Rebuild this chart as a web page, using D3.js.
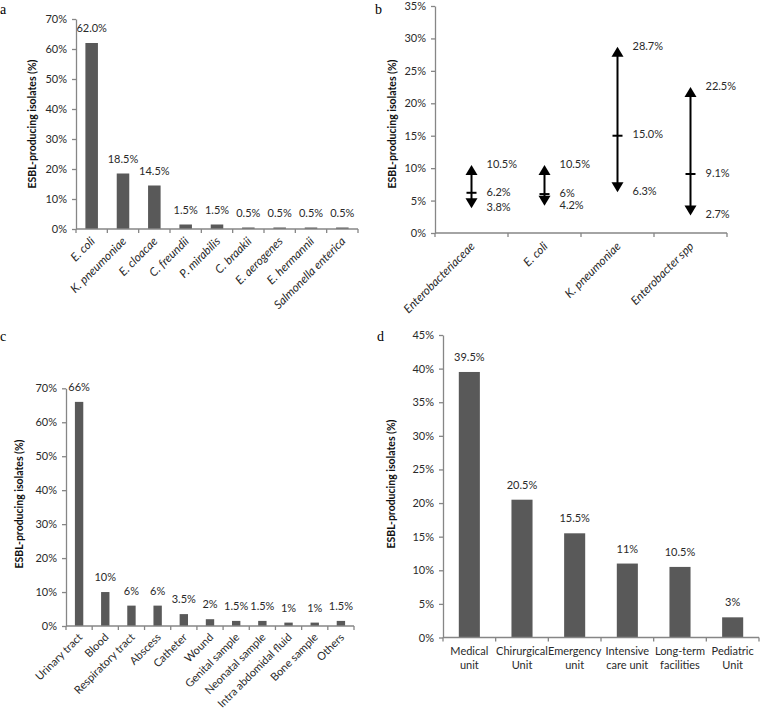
<!DOCTYPE html>
<html><head><meta charset="utf-8">
<script src="https://cdn.jsdelivr.net/npm/d3@7"></script>
<style>
body{margin:0;background:#fff;}
svg{display:block;font-family:Lato,"Open Sans",sans-serif;}
</style></head>
<body><svg id="c" width="760" height="710"></svg>
<script>
// ---- Panel a: species ----
const speciesCats = ["E. coli","K. pneumoniae","E. cloacae","C. freundii","P. mirabilis","C. braakii","E. aerogenes","E. hermannii","Salmonella enterica"];
const speciesVals = [62.0,18.5,14.5,1.5,1.5,0.5,0.5,0.5,0.5];
const speciesLabels = ["62.0%","18.5%","14.5%","1.5%","1.5%","0.5%","0.5%","0.5%","0.5%"];
const yTicksA = [0,10,20,30,40,50,60,70];

// ---- Panel b: ranges ----
const rangeCats = ["Enterobacteriaceae","E. coli","K. pneumoniae","Enterobacter spp"];
const rangeLow = [3.8,4.2,6.3,2.7];
const rangeMid = [6.2,6.0,15.0,9.1];
const rangeHigh = [10.5,10.5,28.7,22.5];
const rangeLowLbl = ["3.8%","4.2%","6.3%","2.7%"];
const rangeMidLbl = ["6.2%","6%","15.0%","9.1%"];
const rangeHighLbl = ["10.5%","10.5%","28.7%","22.5%"];
const yTicksB = [0,5,10,15,20,25,30,35];

// ---- Panel c: sample type ----
const sampleCats = ["Urinary tract","Blood","Respiratory tract","Abscess","Catheter","Wound","Genital sample","Neonatal sample","Intra abdomidal fluid","Bone sample","Others"];
const sampleVals = [66,10,6,6,3.5,2,1.5,1.5,1,1,1.5];
const sampleLabels = ["66%","10%","6%","6%","3.5%","2%","1.5%","1.5%","1%","1%","1.5%"];
const yTicksC = [0,10,20,30,40,50,60,70];

// ---- Panel d: wards ----
const wardCats = [["Medical","unit"],["Chirurgical","Unit"],["Emergency","unit"],["Intensive","care unit"],["Long-term","facilities"],["Pediatric","Unit"]];
const wardVals = [39.5,20.5,15.5,11,10.5,3];
const wardLabels = ["39.5%","20.5%","15.5%","11%","10.5%","3%"];
const yTicksD = [0,5,10,15,20,25,30,35,40,45];

const svg = d3.select("#c");
const AXIS = "#868686", BAR = "#595959", TXT = "#2a2a2a";
const FS = 11;

function yAxisPanel(g, y, ticks, x0, labelX, labelY){
  const ax = d3.axisLeft(y).tickValues(ticks).tickFormat(d=>d+"%").tickSize(4).tickSizeOuter(0).tickPadding(5);
  const ga = g.append("g").attr("transform",`translate(${x0},0)`).call(ax);
  ga.select(".domain").attr("stroke",AXIS).attr("stroke-width",1.3);
  ga.selectAll(".tick line").attr("stroke",AXIS).attr("stroke-width",1.3);
  ga.selectAll(".tick text").attr("fill",TXT).attr("font-size",FS).attr("font-family","Lato, sans-serif");
  g.append("text").attr("transform",`translate(${labelX},${labelY}) rotate(-90)`)
    .attr("text-anchor","middle").attr("dominant-baseline","middle")
    .attr("font-weight","bold").attr("font-size",10.5).attr("fill","#111")
    .text("ESBL-producing isolates (%)");
}
function xAxisLine(g, x, n, yBase){
  const x0 = x.range()[0], x1 = x.range()[1];
  g.append("line").attr("x1",x0).attr("x2",x1).attr("y1",yBase).attr("y2",yBase).attr("stroke",AXIS).attr("stroke-width",1.3);
  const bounds = d3.range(n+1).map(i=>x0 + i*x.step());
  g.selectAll(null).data(bounds).enter().append("line")
    .attr("x1",d=>d).attr("x2",d=>d).attr("y1",yBase).attr("y2",yBase+4).attr("stroke",AXIS).attr("stroke-width",1.3);
}
function panelLetter(t,x,y){
  svg.append("text").attr("x",x).attr("y",y).attr("font-family","'Liberation Serif', serif").attr("font-size",14).attr("fill","#000").text(t);
}

// ---------- Panel a ----------
(function(){
  const g = svg.append("g");
  const yBase=229, yTop=19;
  const y = d3.scaleLinear().domain([0,70]).range([yBase,yTop]);
  const x = d3.scaleBand().domain(speciesCats).range([76,358]).paddingInner(0.6).paddingOuter(0.3);
  g.selectAll(null).data(speciesVals).enter().append("rect")
    .attr("x",(d,i)=>x(speciesCats[i])).attr("width",x.bandwidth())
    .attr("y",d=>y(d)).attr("height",d=>yBase-y(d)).attr("fill",BAR);
  g.selectAll(null).data(speciesVals).enter().append("text")
    .attr("x",(d,i)=>x(speciesCats[i])+x.bandwidth()/2).attr("y",d=>y(d)-11)
    .attr("text-anchor","middle").attr("font-size",FS).attr("fill",TXT).text((d,i)=>speciesLabels[i]);
  yAxisPanel(g,y,yTicksA,76,33,124);
  xAxisLine(g,x,speciesCats.length,yBase);
  g.selectAll(null).data(speciesCats).enter().append("text")
    .attr("transform",d=>`translate(${x(d)+x.bandwidth()/2+4},${yBase+13}) rotate(-45)`)
    .attr("text-anchor","end").attr("font-style","italic").attr("font-size",11.8).attr("fill",TXT).text(d=>d);
  panelLetter("a",0,14);
})();

// ---------- Panel b ----------
(function(){
  const g = svg.append("g");
  const yBase=233, yTop=6;
  const y = d3.scaleLinear().domain([0,35]).range([yBase,yTop]);
  const x = d3.scaleBand().domain(rangeCats).range([435,727]);
  yAxisPanel(g,y,yTicksB,435,393,124);
  xAxisLine(g,x,rangeCats.length,yBase);
  const hw=6, hh=10;
  rangeCats.forEach((c,i)=>{
    const cx = x(c)+x.bandwidth()/2;
    const yl=y(rangeLow[i]), ym=y(rangeMid[i]), yh=y(rangeHigh[i]);
    g.append("line").attr("x1",cx).attr("x2",cx).attr("y1",yh+hh-1).attr("y2",yl-hh+1).attr("stroke","#000").attr("stroke-width",2);
    g.append("path").attr("d",`M${cx},${yh} L${cx+hw},${yh+hh} L${cx-hw},${yh+hh} Z`).attr("fill","#000");
    g.append("path").attr("d",`M${cx},${yl} L${cx+hw},${yl-hh} L${cx-hw},${yl-hh} Z`).attr("fill","#000");
    g.append("line").attr("x1",cx-5).attr("x2",cx+5).attr("y1",ym).attr("y2",ym).attr("stroke","#000").attr("stroke-width",2);
    [[yh,rangeHighLbl[i]],[ym,rangeMidLbl[i]],[yl,rangeLowLbl[i]]].forEach(([yy,t])=>{
      g.append("text").attr("x",cx+15).attr("y",yy).attr("dominant-baseline","middle")
        .attr("font-size",FS).attr("fill",TXT).text(t);
    });
  });
  g.selectAll(null).data(rangeCats).enter().append("text")
    .attr("transform",d=>`translate(${x(d)+x.bandwidth()/2+4},${yBase+14}) rotate(-45)`)
    .attr("text-anchor","end").attr("font-style","italic").attr("font-size",11.8).attr("fill",TXT).text(d=>d);
  panelLetter("b",375,14);
})();

// ---------- Panel c ----------
(function(){
  const g = svg.append("g");
  const yBase=626, yTop=388.3;
  const y = d3.scaleLinear().domain([0,70]).range([yBase,yTop]);
  const x = d3.scaleBand().domain(sampleCats).range([66,354]).paddingInner(0.68).paddingOuter(0.34);
  g.selectAll(null).data(sampleVals).enter().append("rect")
    .attr("x",(d,i)=>x(sampleCats[i])).attr("width",x.bandwidth())
    .attr("y",d=>y(d)).attr("height",d=>yBase-y(d)).attr("fill",BAR);
  g.selectAll(null).data(sampleVals).enter().append("text")
    .attr("x",(d,i)=>x(sampleCats[i])+x.bandwidth()/2).attr("y",d=>y(d)-11)
    .attr("text-anchor","middle").attr("font-size",FS).attr("fill",TXT).text((d,i)=>sampleLabels[i]);
  yAxisPanel(g,y,yTicksC,66,20,504);
  xAxisLine(g,x,sampleCats.length,yBase);
  g.selectAll(null).data(sampleCats).enter().append("text")
    .attr("transform",d=>`translate(${x(d)+x.bandwidth()/2+4},${yBase+12}) rotate(-45)`)
    .attr("text-anchor","end").attr("font-size",FS).attr("fill",TXT).text(d=>d);
  panelLetter("c",0,341);
})();

// ---------- Panel d ----------
(function(){
  const g = svg.append("g");
  const yBase=637.5, yTop=335;
  const y = d3.scaleLinear().domain([0,45]).range([yBase,yTop]);
  const names = wardCats.map(d=>d.join(" "));
  const x = d3.scaleBand().domain(names).range([443,759]).paddingInner(0.6).paddingOuter(0.3);
  g.selectAll(null).data(wardVals).enter().append("rect")
    .attr("x",(d,i)=>x(names[i])).attr("width",x.bandwidth())
    .attr("y",d=>y(d)).attr("height",d=>yBase-y(d)).attr("fill",BAR);
  g.selectAll(null).data(wardVals).enter().append("text")
    .attr("x",(d,i)=>x(names[i])+x.bandwidth()/2).attr("y",d=>y(d)-11)
    .attr("text-anchor","middle").attr("font-size",FS).attr("fill",TXT).text((d,i)=>wardLabels[i]);
  yAxisPanel(g,y,yTicksD,443,392,484);
  xAxisLine(g,x,names.length,yBase);
  wardCats.forEach((lines,i)=>{
    const t = g.append("text").attr("text-anchor","middle").attr("font-size",FS).attr("fill",TXT);
    lines.forEach((ln,j)=>{
      t.append("tspan").attr("x",x(names[i])+x.bandwidth()/2).attr("y",yBase+17+j*14.5).text(ln);
    });
  });
  panelLetter("d",377,341);
})();
</script>
</body></html>
